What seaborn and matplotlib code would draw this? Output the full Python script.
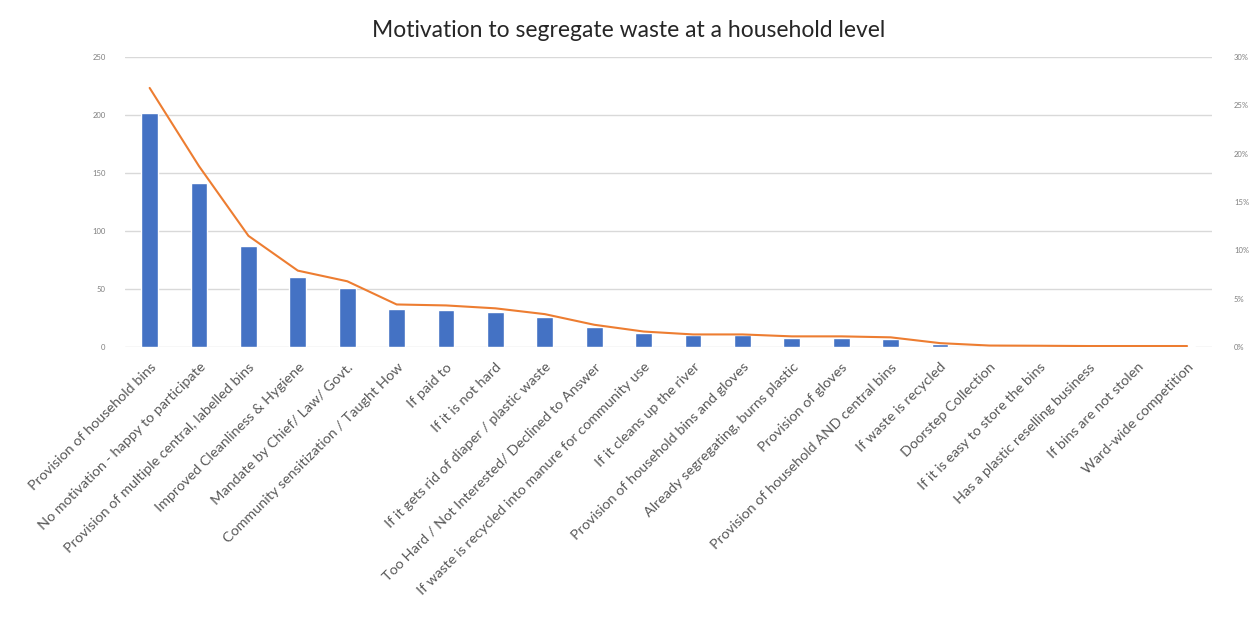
import matplotlib
matplotlib.use("Agg")
import matplotlib.pyplot as plt
import seaborn as sns
import numpy as np
import pandas as pd
from matplotlib.ticker import FuncFormatter

categories = [
    "Provision of household bins",
    "No motivation - happy to participate",
    "Provision of multiple central, labelled bins",
    "Improved Cleanliness & Hygiene",
    "Mandate by Chief/ Law/ Govt.",
    "Community sensitization / Taught How",
    "If paid to",
    "If it is not hard",
    "If it gets rid of diaper / plastic waste",
    "Too Hard / Not Interested/ Declined to Answer",
    "If waste is recycled into manure for community use",
    "If it cleans up the river",
    "Provision of household bins and gloves",
    "Already segregating, burns plastic",
    "Provision of gloves",
    "Provision of household AND central bins",
    "If waste is recycled",
    "Doorstep Collection",
    "If it is easy to store the bins",
    "Has a plastic reselling business",
    "If bins are not stolen",
    "Ward-wide competition",
]
counts = [202, 141, 87, 60, 51, 33, 32, 30, 26, 17, 12, 10, 10, 8, 8, 7, 3, 1, 1, 1, 1, 1]
percent = [26.8, 18.7, 11.5, 7.9, 6.8, 4.4, 4.3, 4.0, 3.4, 2.3, 1.6, 1.3, 1.3,
           1.1, 1.1, 1.0, 0.4, 0.15, 0.13, 0.1, 0.1, 0.1]
left_ticks = [0, 50, 100, 150, 200, 250]
right_ticks = [0, 5, 10, 15, 20, 25, 30]
title = "Motivation to segregate waste at a household level"

sns.set_theme(style="white")
plt.rcParams['font.family'] = ['Lato', 'DejaVu Sans']

fig = plt.figure(figsize=(12.57, 6.17), dpi=100)
ax = fig.add_axes([0.0994, 0.4376, 0.8646, 0.470])

df = pd.DataFrame({"cat": categories, "count": counts, "pct": percent, "pos": np.arange(len(categories))})

sns.barplot(data=df, x="cat", y="count", ax=ax, color="#4472C4", width=0.34,
            saturation=1, order=categories)
ax.set_ylim(0, 250)
ax.set_yticks(left_ticks)
ax.set_xlim(-0.5, len(categories) - 0.5)
ax.grid(axis="y", color="#D9D9D9", linewidth=1)
ax.set_axisbelow(True)
for s in ax.spines.values():
    s.set_visible(False)
ax.set_xlabel("")
ax.set_ylabel("")
ax.tick_params(axis="y", length=0, pad=14, labelsize=5.5, labelcolor="#7F7F7F")
ax.tick_params(axis="x", length=0, pad=10)
ax.set_xticks(range(len(categories)))
ax.set_xticklabels(categories, rotation=45, ha="right", rotation_mode="anchor",
                   fontsize=10.4, color="#595959")

ax2 = ax.twinx()
sns.lineplot(data=df, x="pos", y="pct", ax=ax2, color="#ED7D31", linewidth=1.5, sort=False)
ax2.set_ylim(0, 30)
ax2.set_yticks(right_ticks)
ax2.yaxis.set_major_formatter(FuncFormatter(lambda v, p: f"{int(v)}%"))
ax2.set_xlim(-0.5, len(categories) - 0.5)
ax2.tick_params(axis="y", length=0, pad=16, labelsize=5.5, labelcolor="#7F7F7F")
for s in ax2.spines.values():
    s.set_visible(False)
ax2.set_ylabel("")
ax2.set_xlabel("")
ax2.grid(False)

fig.text(0.50, 0.950, title, ha="center", va="center", fontsize=16.5, color="#262626")

fig.savefig("out.png", dpi=100, facecolor="white")
